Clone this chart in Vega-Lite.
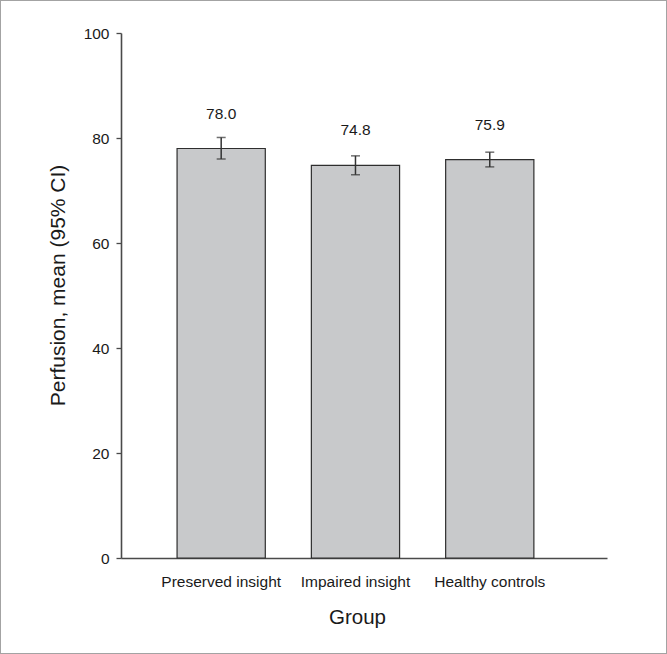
{
  "$schema": "https://vega.github.io/schema/vega-lite/v6.json",
  "width": 667,
  "height": 654,
  "autosize": "none",
  "padding": 0,
  "background": "white",
  "config": {
    "view": {"stroke": "#a3a3a3", "strokeWidth": 2},
    "font": "Liberation Sans"
  },
  "data": {
    "values": [
      {"group": "Preserved insight", "mean": 78.0, "lo": 76.0, "hi": 80.1, "label": "78.0"},
      {"group": "Impaired insight", "mean": 74.8, "lo": 73.0, "hi": 76.6, "label": "74.8"},
      {"group": "Healthy controls", "mean": 75.9, "lo": 74.5, "hi": 77.3, "label": "75.9"}
    ]
  },
  "encoding": {
    "x": {
      "field": "group",
      "type": "nominal",
      "sort": null,
      "scale": {"range": [121, 607], "paddingInner": 0.343, "paddingOuter": 0.481, "align": 0.434},
      "axis": {
        "offset": -96,
        "title": "Group",
        "titleFontSize": 20.5,
        "titleFontWeight": "normal",
        "titleColor": "#1a1a1a",
        "titlePadding": 18,
        "titleX": 357,
        "labelFontSize": 15.5,
        "labelColor": "#1a1a1a",
        "labelAngle": 0,
        "labelPadding": 16,
        "ticks": false,
        "domainColor": "#4a4a4a",
        "domainWidth": 1.6,
        "grid": false
      }
    }
  },
  "layer": [
    {
      "mark": {"type": "bar", "fill": "#c8c9cb", "stroke": "#2e2e2e", "strokeWidth": 1.2},
      "encoding": {
        "y": {
          "field": "mean",
          "type": "quantitative",
          "scale": {"domain": [0, 100], "range": [558, 33], "nice": false, "zero": true},
          "axis": {
            "offset": -121,
            "title": "Perfusion, mean (95% CI)",
            "titleFontSize": 21,
            "titleFontWeight": "normal",
            "titleColor": "#1a1a1a",
            "titlePadding": 15,
            "titleY": 285,
            "values": [0, 20, 40, 60, 80, 100],
            "labelFontSize": 15.5,
            "labelColor": "#1a1a1a",
            "labelPadding": 7,
            "tickSize": 5,
            "tickColor": "#4a4a4a",
            "tickWidth": 1.3,
            "domainColor": "#4a4a4a",
            "domainWidth": 1.6,
            "grid": false
          }
        }
      }
    },
    {
      "mark": {"type": "rule", "color": "#333333", "strokeWidth": 1.5},
      "encoding": {
        "y": {"field": "lo", "type": "quantitative", "axis": {"title": "Perfusion, mean (95% CI)"}},
        "y2": {"field": "hi"}
      }
    },
    {
      "mark": {"type": "tick", "color": "#333333", "size": 9, "thickness": 1.5},
      "encoding": {
        "y": {"field": "lo", "type": "quantitative", "axis": {"title": "Perfusion, mean (95% CI)"}}
      }
    },
    {
      "mark": {"type": "tick", "color": "#333333", "size": 9, "thickness": 1.5},
      "encoding": {
        "y": {"field": "hi", "type": "quantitative", "axis": {"title": "Perfusion, mean (95% CI)"}}
      }
    },
    {
      "mark": {"type": "text", "fontSize": 15.5, "color": "#1a1a1a", "baseline": "middle", "dy": -35},
      "encoding": {
        "y": {"field": "mean", "type": "quantitative", "axis": {"title": "Perfusion, mean (95% CI)"}},
        "text": {"field": "label"}
      }
    }
  ]
}
